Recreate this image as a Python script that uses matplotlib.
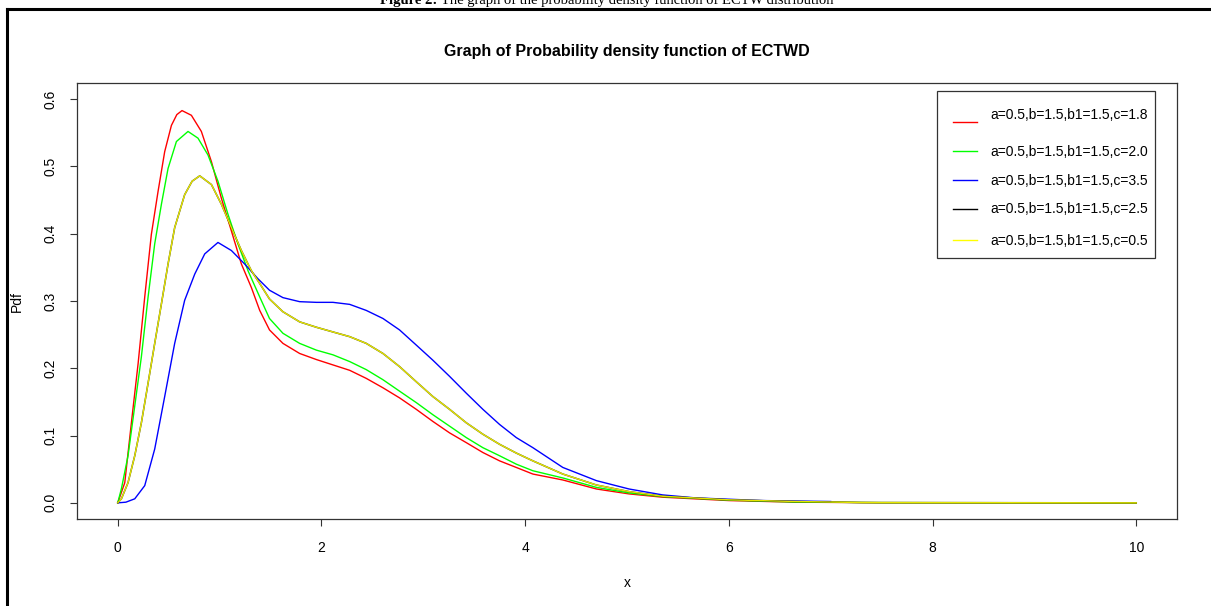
import matplotlib
matplotlib.use("Agg")
import matplotlib.pyplot as plt
from matplotlib.lines import Line2D
from matplotlib.patches import Rectangle

# values
x_red = [0, 0.069, 0.134, 0.2, 0.265, 0.33, 0.396, 0.461, 0.527, 0.58, 0.631, 0.723, 0.821, 0.92,
         1.017, 1.116, 1.214, 1.312, 1.394, 1.49, 1.622, 1.786, 1.95, 2.113, 2.277, 2.44, 2.604,
         2.767, 2.931, 3.094, 3.258, 3.422, 3.585, 3.749, 3.913, 4.076, 4.37, 4.70, 5.02, 5.35,
         6.0, 6.66, 7.5, 10]
y_red = [0, 0.03, 0.119, 0.207, 0.306, 0.399, 0.463, 0.522, 0.561, 0.577, 0.583, 0.576, 0.552, 0.507,
         0.453, 0.404, 0.355, 0.32, 0.286, 0.257, 0.237, 0.222, 0.213, 0.205, 0.197, 0.185, 0.171,
         0.156, 0.139, 0.121, 0.104, 0.0895, 0.0748, 0.0624, 0.0526, 0.0428, 0.034, 0.0206, 0.0133,
         0.0084, 0.0034, 0.001, 0.0002, 0]

x_green = [0, 0.036, 0.101, 0.167, 0.232, 0.298, 0.363, 0.429, 0.494, 0.576, 0.69, 0.788, 0.886,
           0.984, 1.082, 1.18, 1.279, 1.394, 1.49, 1.622, 1.786, 1.95, 2.113, 2.277, 2.44, 2.604,
           2.767, 2.931, 3.094, 3.258, 3.422, 3.585, 3.749, 3.913, 4.076, 4.37, 4.70, 5.02, 5.35,
           6.0, 6.66, 7.5, 10]
y_green = [0, 0.021, 0.070, 0.144, 0.217, 0.306, 0.385, 0.444, 0.497, 0.537, 0.552, 0.542, 0.517,
           0.478, 0.429, 0.385, 0.345, 0.306, 0.274, 0.252, 0.237, 0.227, 0.220, 0.210, 0.198, 0.183,
           0.166, 0.149, 0.131, 0.114, 0.097, 0.082, 0.070, 0.0575, 0.0477, 0.037, 0.023, 0.0147,
           0.0093, 0.004, 0.0012, 0.0003, 0]

x_blue = [0, 0.08, 0.167, 0.265, 0.363, 0.461, 0.559, 0.657, 0.756, 0.854, 0.984, 1.116, 1.246,
          1.377, 1.49, 1.622, 1.786, 1.95, 2.113, 2.277, 2.44, 2.604, 2.767, 2.931, 3.094, 3.258,
          3.422, 3.585, 3.749, 3.913, 4.076, 4.37, 4.70, 5.02, 5.35, 5.67, 6.33, 7.0]
y_blue = [0, 0.001, 0.006, 0.0256, 0.080, 0.158, 0.237, 0.301, 0.340, 0.370, 0.387, 0.375, 0.355,
          0.333, 0.316, 0.305, 0.299, 0.298, 0.298, 0.295, 0.286, 0.274, 0.257, 0.2345, 0.212, 0.188,
          0.163, 0.139, 0.1165, 0.097, 0.082, 0.0526, 0.033, 0.0206, 0.0118, 0.0074, 0.0034, 0.002]

x_yellow = [0, 0.036, 0.101, 0.167, 0.232, 0.298, 0.363, 0.429, 0.494, 0.559, 0.657, 0.73, 0.805,
            0.92, 1.017, 1.116, 1.214, 1.312, 1.394, 1.49, 1.622, 1.786, 1.95, 2.113, 2.277, 2.44,
            2.604, 2.767, 2.931, 3.094, 3.258, 3.422, 3.585, 3.749, 3.913, 4.076, 4.37, 4.70, 5.02,
            5.35, 6.0, 6.66, 7.3, 10]
y_yellow = [0, 0.006, 0.030, 0.070, 0.119, 0.178, 0.237, 0.296, 0.355, 0.409, 0.458, 0.478, 0.486,
            0.473, 0.444, 0.409, 0.375, 0.345, 0.326, 0.303, 0.284, 0.269, 0.261, 0.254, 0.247, 0.237,
            0.222, 0.2025, 0.180, 0.158, 0.139, 0.119, 0.102, 0.087, 0.074, 0.0624, 0.0428, 0.0265,
            0.0167, 0.0098, 0.0045, 0.002, 0.0005, 0]

# the black curve sits exactly under the yellow one in the reference
x_black = x_yellow
y_black = y_yellow

labels = ["a=0.5,b=1.5,b1=1.5,c=1.8", "a=0.5,b=1.5,b1=1.5,c=2.0", "a=0.5,b=1.5,b1=1.5,c=3.5",
          "a=0.5,b=1.5,b1=1.5,c=2.5", "a=0.5,b=1.5,b1=1.5,c=0.5"]
colors = ["#ff0000", "#00ff00", "#0000ff", "#000000", "#ffff00"]

plt.rcParams["font.family"] = ["Liberation Sans", "DejaVu Sans"]
W, H = 1211, 606
fig = plt.figure(figsize=(W / 100, H / 100), dpi=100)
ax = fig.add_axes([77 / W, (H - 519) / H, 1100 / W, 436 / H])

ax.plot(x_red, y_red, color=colors[0], lw=1.0)
ax.plot(x_green, y_green, color=colors[1], lw=1.0)
ax.plot(x_blue, y_blue, color=colors[2], lw=1.0)
ax.plot(x_black, y_black, color=colors[3], lw=1.1, alpha=0.8)
ax.plot(x_yellow, y_yellow, color="#e6e600", lw=1.0)

ax.set_xlim(-0.4, 10.4)
ax.set_ylim(-0.024, 0.624)
ax.set_xticks([0, 2, 4, 6, 8, 10])
ax.set_yticks([0.0, 0.1, 0.2, 0.3, 0.4, 0.5, 0.6])
ax.set_yticklabels(["0.0", "0.1", "0.2", "0.3", "0.4", "0.5", "0.6"])
ax.tick_params(direction="out", length=5, width=0.8, labelsize=10, color="#333333")
ax.tick_params(axis="x", pad=11)
ax.tick_params(axis="y", pad=9, labelrotation=90)
for lab in ax.get_yticklabels():
    lab.set_va("center")
for s in ax.spines.values():
    s.set_linewidth(0.9)
    s.set_color("#333333")

ax.set_title("Graph of Probability density function of ECTWD", fontsize=11.5,
             fontweight="bold", pad=19.5)
fig.text(627 / W, 1 - 583 / H, "x", ha="center", va="center", fontsize=10)
fig.text(17 / W, 1 - 301 / H, "Pdf", ha="center", va="center", rotation=90, fontsize=10)

# legend box drawn by hand to keep R's uneven row spacing
x0, x1 = (937 - 77) / 1100, (1155 - 77) / 1100
yt, yb = (519 - 91) / 436, (519 - 258) / 436
ax.add_patch(Rectangle((x0, yb), x1 - x0, yt - yb, transform=ax.transAxes, fill=False,
                       lw=0.9, ec="#333333", zorder=5))
line_rows = [122, 151, 180, 209, 240]
text_rows = [115, 152, 181, 209, 241]
for lab, c, ly, ty in zip(labels, colors, line_rows, text_rows):
    yl = (519 - ly) / 436
    ax.add_line(Line2D([(953 - 77) / 1100, (977 - 77) / 1100], [yl, yl], color=c, lw=1.0,
                       transform=ax.transAxes, zorder=6))
    ax.text((990 - 77) / 1100, (519 - ty) / 436, lab, transform=ax.transAxes, fontsize=10,
            va="center", ha="left", zorder=6)

# page decorations: cut-off figure caption and the frame around the plot
serif = ["Liberation Serif", "DejaVu Serif"]
cap_y = 1 - 4 / H
t1 = fig.text(380 / W, cap_y, "Figure 2:", ha="left", va="baseline", fontsize=10.5,
              fontweight="bold", family=serif)
fig.canvas.draw()
bb = t1.get_window_extent()
fig.text(bb.x1 / W + 4 / W, cap_y,
         "The graph of the probability density function of ECTW distribution",
         ha="left", va="baseline", fontsize=10.5, family=serif)
fig.add_artist(Line2D([7 / W, 1], [1 - 9 / H, 1 - 9 / H], color="black", lw=2.2,
                      transform=fig.transFigure))
fig.add_artist(Line2D([7 / W, 7 / W], [0, 1 - 9 / H], color="black", lw=2.2,
                      transform=fig.transFigure))

fig.savefig("out.png", dpi=100)
